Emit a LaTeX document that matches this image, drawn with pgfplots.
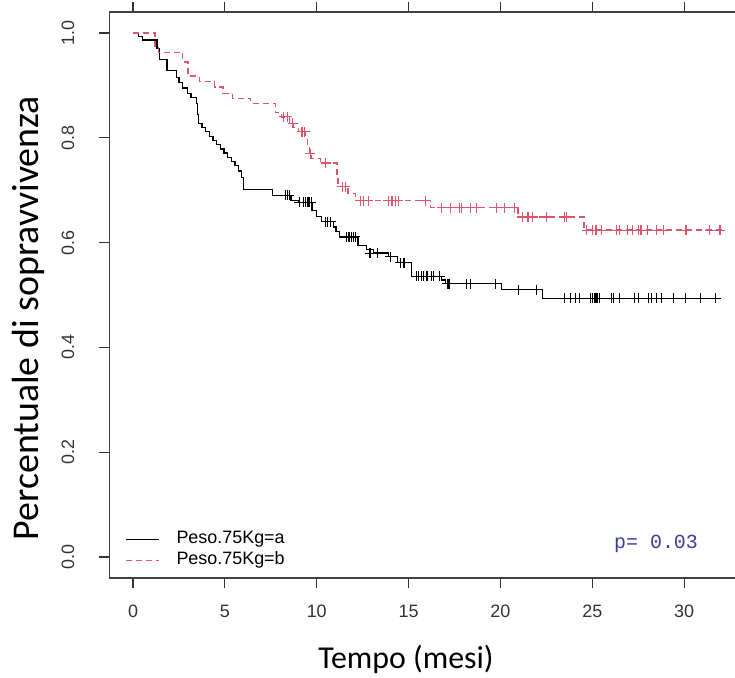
\documentclass[border=0pt]{standalone}
\usepackage{fontspec}
\setmainfont{Liberation Sans}
\newfontfamily\calibri{Carlito}
\newfontfamily\courier{Liberation Mono}
\usepackage{pgfplots}
\pgfplotsset{compat=1.18}
\definecolor{rred}{HTML}{DF536B}
\definecolor{pblue}{RGB}{60,60,150}
\begin{document}
\begin{tikzpicture}
\useasboundingbox (-109.5bp,-100bp) rectangle (625.5bp,578bp);
\begin{axis}[
  at={(0,0)}, anchor=south west,
  scale only axis, width=634.9bp, height=565.9bp,
  xmin=-1.28, xmax=33.28, ymin=-0.04, ymax=1.04,
  /pgf/number format/assume math mode=true,
  xtick={0,5,10,15,20,25,30},
  ytick={0,0.2,0.4,0.6,0.8,1.0},
  yticklabels={0.0,0.2,0.4,0.6,0.8,1.0},
  tick align=outside, major tick length=10bp,
  tick style={line width=1.2bp, black!80},
  axis line style={line width=1.2bp, black!75},
  xticklabel style={font=\fontsize{18}{20}\selectfont, text=black!80, inner sep=0pt, anchor=north, yshift=-17bp},
  yticklabel style={font=\fontsize{18}{20}\selectfont, text=black!80, inner sep=0pt, rotate=90, anchor=center, yshift=31.5bp},
  every axis x label/.style={at={(axis description cs:0.467,-0.143)}, anchor=center, font=\calibri\fontsize{32}{36}\selectfont},
  every axis y label/.style={at={(axis description cs:-0.1284,0.4594)}, rotate=90, anchor=center, font=\calibri\fontsize{38}{42}\selectfont},
  xlabel={Tempo (mesi)},
  ylabel={Percentuale di sopravvivenza},
  legend image code/.code={\draw[#1] (0bp,0bp) -- (33bp,0bp);},
  legend style={draw=none, fill=none, inner sep=0pt, at={(axis cs:-0.435,0.0506)}, anchor=north west,
    font=\fontsize{18}{20}\selectfont, column sep=17bp, row sep=4bp,
    nodes={inner xsep=0pt, inner ysep=0pt, text height=13bp, text depth=4bp}},
  legend cell align=left,
]
\addplot[const plot, black, line width=1.3bp] coordinates {
(0,1.000) (0.3,0.993) (0.5,0.987) (1.3,0.970) (1.45,0.950) (1.85,0.928)
(2.35,0.915) (2.5,0.905) (2.7,0.895) (2.95,0.885) (3.15,0.877) (3.45,0.866)
(3.5,0.845) (3.55,0.828) (3.75,0.820) (3.95,0.812) (4.15,0.803) (4.35,0.795)
(4.55,0.787) (4.75,0.779) (4.95,0.771) (5.15,0.763) (5.35,0.755) (5.55,0.747)
(5.75,0.737) (5.9,0.725) (6.0,0.702) (7.6,0.690) (8.6,0.681) (9.0,0.677)
(9.75,0.662) (10.0,0.650) (10.25,0.640) (10.9,0.630) (11.05,0.621) (11.25,0.611)
(12.25,0.595) (12.7,0.587) (13.1,0.580) (13.9,0.573) (14.4,0.562) (15.15,0.536)
(16.8,0.529) (17.0,0.522) (20.07,0.510) (22.3,0.494) (32.0,0.494)
};
\addlegendentry{Peso.75Kg=a}
\addplot[const plot, rred, line width=1.3bp, dash pattern=on 6bp off 4bp] coordinates {
(0,1.000) (1.2,0.975) (1.4,0.963) (2.7,0.945) (3.0,0.918) (3.6,0.908)
(4.45,0.897) (4.9,0.885) (5.4,0.875) (6.4,0.866) (7.75,0.848) (8.1,0.840)
(8.5,0.828) (8.75,0.820) (9.0,0.812) (9.4,0.800) (9.5,0.786) (9.6,0.770)
(9.7,0.761) (10.2,0.752) (11.1,0.725) (11.15,0.707) (11.7,0.694) (12.1,0.680)
(16.2,0.667) (20.96,0.649) (24.55,0.624) (32.1,0.624)
};
\addlegendentry{Peso.75Kg=b}
\addplot[only marks, mark=+, mark size=5bp, black, mark options={line width=1.1bp}, forget plot] coordinates {
(8.3,0.690) (8.4,0.690) (8.5,0.690)
(9.05,0.677) (9.3,0.677) (9.4,0.677) (9.5,0.677) (9.55,0.677) (9.6,0.677) (9.7,0.677)
(10.5,0.640) (10.6,0.640) (10.75,0.640)
(11.6,0.611) (11.75,0.611) (11.8,0.611) (11.9,0.611) (12.0,0.611) (12.1,0.611)
(12.9,0.580) (13.3,0.580) (14.0,0.573)
(14.55,0.562) (14.7,0.562) (14.8,0.562)
(15.44,0.536) (15.53,0.536) (15.7,0.536) (15.8,0.536) (16.0,0.536) (16.26,0.536) (16.35,0.536) (16.7,0.536)
(17.1,0.522) (17.2,0.522) (18.15,0.522) (18.35,0.522) (19.75,0.522)
(21.0,0.510) (21.95,0.510)
(23.5,0.494) (23.8,0.494) (24.1,0.494) (24.3,0.494) (24.9,0.494) (25.0,0.494) (25.1,0.494)
(25.2,0.494) (25.3,0.494) (25.4,0.494) (26.05,0.494) (26.15,0.494) (26.5,0.494) (27.3,0.494)
(27.5,0.494) (28.05,0.494) (28.2,0.494) (28.5,0.494) (28.75,0.494) (29.4,0.494) (30.05,0.494)
(30.9,0.494) (31.7,0.494)
};
\addplot[only marks, mark=+, mark size=5bp, rred, mark options={line width=1.1bp}, forget plot] coordinates {
(8.2,0.840) (8.4,0.840) (8.7,0.828) (9.2,0.812) (9.35,0.812) (9.65,0.770)
(10.5,0.752) (11.4,0.707) (11.55,0.707)
(12.4,0.680) (12.55,0.680) (12.8,0.680) (13.9,0.680) (14.1,0.680) (14.3,0.680) (14.45,0.680) (15.9,0.680)
(16.8,0.667) (17.3,0.667) (17.75,0.667) (17.9,0.667) (18.35,0.667) (18.7,0.667)
(19.8,0.667) (20.2,0.667) (20.75,0.667)
(21.2,0.649) (21.5,0.649) (21.75,0.649) (22.5,0.649) (23.5,0.649) (23.6,0.649)
(24.7,0.624) (25.0,0.624) (25.2,0.624) (25.5,0.624) (26.3,0.624) (26.5,0.624) (26.9,0.624)
(27.2,0.624) (27.5,0.624) (27.65,0.624) (28.0,0.624) (28.5,0.624) (28.9,0.624) (30.1,0.624)
(31.4,0.624) (31.95,0.624)
};
\node[font=\courier\fontsize{20}{22}\selectfont, text=pblue, anchor=center] at (axis cs:28.47,0.025) {p= 0.03};
\end{axis}
\end{tikzpicture}
\end{document}
